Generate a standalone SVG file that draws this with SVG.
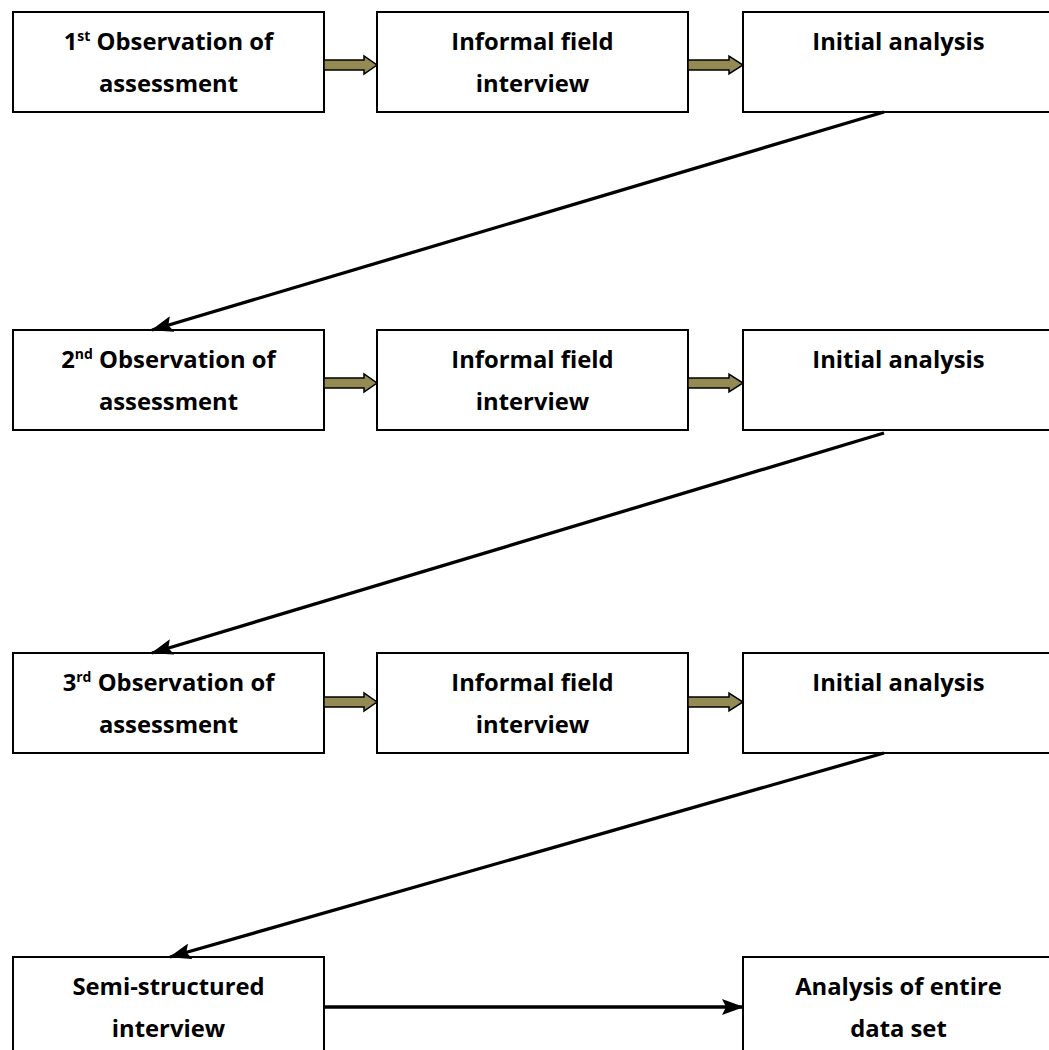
<svg xmlns="http://www.w3.org/2000/svg" width="1049" height="1050" viewBox="0 0 1049 1050">
<style>
.box{fill:#fff;stroke:#000;stroke-width:2}
.t{font-family:"Open Sans","Liberation Sans",sans-serif;font-weight:bold;font-size:23.8px;fill:#000;text-anchor:middle}
.sup{font-size:14px}
.blk{fill:#948A54;stroke:#000;stroke-width:1.5;stroke-linejoin:miter}
.ln{stroke:#000;stroke-width:3.3;fill:none}
</style>
<defs>
<marker id="ah2" markerWidth="22" markerHeight="16" refX="21" refY="8" orient="auto" markerUnits="userSpaceOnUse" viewBox="0 0 22 16">
<path d="M0,0 L22,8 L0,16 L4,8 z" fill="#000"/>
</marker>
</defs>
<g id="n1"><rect class="box" x="13" y="12" width="311" height="100"/><text class="t" x="168.5" y="50">1<tspan class="sup" dy="-9">st</tspan><tspan dy="9"> Observation of</tspan></text><text class="t" x="168.5" y="92">assessment</text></g>
<g id="n2"><rect class="box" x="377" y="12" width="311" height="100"/><text class="t" x="532.5" y="50">Informal field</text><text class="t" x="532.5" y="92">interview</text></g>
<g id="n3"><rect class="box" x="743" y="12" width="311" height="100"/><text class="t" x="898.5" y="50">Initial analysis</text></g>
<g id="n4"><rect class="box" x="13" y="330" width="311" height="100"/><text class="t" x="168.5" y="368">2<tspan class="sup" dy="-9">nd</tspan><tspan dy="9"> Observation of</tspan></text><text class="t" x="168.5" y="410">assessment</text></g>
<g id="n5"><rect class="box" x="377" y="330" width="311" height="100"/><text class="t" x="532.5" y="368">Informal field</text><text class="t" x="532.5" y="410">interview</text></g>
<g id="n6"><rect class="box" x="743" y="330" width="311" height="100"/><text class="t" x="898.5" y="368">Initial analysis</text></g>
<g id="n7"><rect class="box" x="13" y="653" width="311" height="100"/><text class="t" x="168.5" y="691">3<tspan class="sup" dy="-9">rd</tspan><tspan dy="9"> Observation of</tspan></text><text class="t" x="168.5" y="733">assessment</text></g>
<g id="n8"><rect class="box" x="377" y="653" width="311" height="100"/><text class="t" x="532.5" y="691">Informal field</text><text class="t" x="532.5" y="733">interview</text></g>
<g id="n9"><rect class="box" x="743" y="653" width="311" height="100"/><text class="t" x="898.5" y="691">Initial analysis</text></g>
<g id="n10"><rect class="box" x="13" y="957" width="311" height="110"/><text class="t" x="168.5" y="995">Semi-structured</text><text class="t" x="168.5" y="1037">interview</text></g>
<g id="n11"><rect class="box" x="743" y="957" width="311" height="110"/><text class="t" x="898.5" y="995">Analysis of entire</text><text class="t" x="898.5" y="1037">data set</text></g>
<g id="connectors">
<path class="blk" d="M324,60 L364,60 L364,56 L377,65 L364,74 L364,70 L324,70 z"/>
<path class="blk" d="M688,60 L729,60 L729,56 L743,65 L729,74 L729,70 L688,70 z"/>
<path class="blk" d="M324,378 L364,378 L364,374 L377,383 L364,392 L364,388 L324,388 z"/>
<path class="blk" d="M688,378 L729,378 L729,374 L743,383 L729,392 L729,388 L688,388 z"/>
<path class="blk" d="M324,697 L364,697 L364,693 L377,702 L364,711 L364,707 L324,707 z"/>
<path class="blk" d="M688,697 L729,697 L729,693 L743,702 L729,711 L729,707 L688,707 z"/>
<line class="ln" x1="884" y1="112" x2="152" y2="330" marker-end="url(#ah2)"/>
<line class="ln" x1="884" y1="433" x2="152" y2="653" marker-end="url(#ah2)"/>
<line class="ln" x1="884" y1="753" x2="170" y2="957" marker-end="url(#ah2)"/>
<line class="ln" x1="324" y1="1007" x2="743" y2="1007" marker-end="url(#ah2)"/>
</g>
</svg>
